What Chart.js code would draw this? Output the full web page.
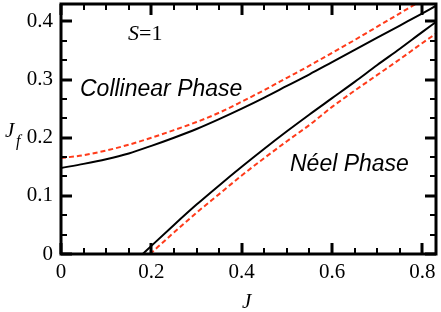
<!DOCTYPE html>
<html>
<head>
<meta charset="utf-8">
<script src="https://cdn.jsdelivr.net/npm/chart.js@4"></script>
<style>
  body { margin: 0; background: #fff; }
  #wrap { width: 441px; height: 312px; }
</style>
</head>
<body>
<div id="wrap"><canvas id="myChart" width="441" height="312"></canvas></div>
<script>
// boundary curves
const upperJ = [0, 0.05, 0.1, 0.15, 0.2, 0.25, 0.3, 0.35, 0.4, 0.45, 0.5, 0.55, 0.6, 0.65, 0.7, 0.75, 0.8, 0.83]
const upperBlack = [0.148, 0.155, 0.163, 0.173, 0.186, 0.200, 0.215, 0.232, 0.250, 0.269, 0.289, 0.309, 0.330, 0.351, 0.372, 0.393, 0.414, 0.427]
const upperRed = [0.165, 0.170, 0.178, 0.188, 0.200, 0.213, 0.227, 0.243, 0.262, 0.282, 0.303, 0.324, 0.346, 0.368, 0.391, 0.414, 0.437, 0.451]

const lowerBlackJ = [0.181, 0.2, 0.25, 0.3, 0.35, 0.4, 0.45, 0.5, 0.55, 0.6, 0.65, 0.7, 0.75, 0.8, 0.83]
const lowerBlack = [0, 0.014, 0.050, 0.085, 0.118, 0.150, 0.181, 0.211, 0.240, 0.268, 0.296, 0.325, 0.353, 0.382, 0.399]
const lowerRedJ = [0.197, 0.25, 0.3, 0.35, 0.4, 0.45, 0.5, 0.55, 0.6, 0.65, 0.7, 0.75, 0.8, 0.83]
const lowerRed = [0, 0.037, 0.071, 0.103, 0.135, 0.165, 0.194, 0.222, 0.253, 0.281, 0.308, 0.335, 0.363, 0.379]

const xTicks = [0, 0.2, 0.4, 0.6, 0.8]
const yTicks = [0, 0.1, 0.2, 0.3, 0.4]
const tickLabel = v => v === 0 ? "0" : v.toFixed(1)

const pts = (xs, ys) => xs.map((x, i) => ({x: x, y: ys[i]}))
const red = "#ff3b1a"
const serif = "'Liberation Serif', 'DejaVu Serif', serif"

const frame = {
    id: "frame",
    afterDraw(chart) {
        const c = chart.ctx
        const a = chart.chartArea
        const sx = chart.scales.x, sy = chart.scales.y
        c.save()
        c.strokeStyle = "#000"
        c.lineCap = "butt"
        // minor + major ticks on all sides, pointing in
        for (let k = 0; k <= 16; k++) {
            const px = Math.round(sx.getPixelForValue(k * 0.05))
            const major = k % 4 === 0
            const len = major ? 11 : 6
            c.lineWidth = major ? 3 : 2
            c.beginPath()
            c.moveTo(px, a.bottom); c.lineTo(px, a.bottom - len)
            c.moveTo(px, a.top); c.lineTo(px, a.top + len)
            c.stroke()
        }
        for (let k = 0; k <= 12; k++) {
            const py = Math.round(sy.getPixelForValue(k / 30))
            const major = k % 3 === 0
            const len = major ? 11 : 6
            c.lineWidth = major ? 3 : 2
            c.beginPath()
            c.moveTo(a.left, py); c.lineTo(a.left + len, py)
            c.moveTo(a.right, py); c.lineTo(a.right - len, py)
            c.stroke()
        }
        c.lineWidth = 3
        c.strokeRect(a.left, a.top, a.right - a.left, a.bottom - a.top)

        // tick labels
        c.fillStyle = "#000"
        c.font = "21px " + serif
        c.textBaseline = "middle"
        c.textAlign = "center"
        xTicks.forEach(v => c.fillText(tickLabel(v), sx.getPixelForValue(v), 272))
        c.textAlign = "right"
        yTicks.forEach(v => c.fillText(tickLabel(v), 53, sy.getPixelForValue(v)))

        // texts
        c.textBaseline = "alphabetic"
        c.textAlign = "left"
        c.font = "italic 22px " + serif
        c.fillText("S", 128, 40)
        let w = c.measureText("S").width
        c.font = "22px " + serif
        c.fillText("=1", 128 + w, 40)

        c.font = "italic 23px 'Liberation Sans'"
        c.fillText("Collinear Phase", 80, 96)
        c.fillText("Néel Phase", 290, 171)

        c.font = "italic 21px " + serif
        c.fillText("J", 242, 308)
        c.fillText("J", 5, 137)
        c.font = "italic 16px " + serif
        c.fillText("f", 16, 146)
        c.restore()
    }
}

const ctx = document.getElementById("myChart").getContext("2d")
new Chart(ctx, {
    type: "scatter",
    data: {
        datasets: [
            {data: pts(upperJ, upperRed), borderColor: red, borderDash: [5, 3], borderWidth: 2},
            {data: pts(upperJ, upperBlack), borderColor: "#000", borderWidth: 2},
            {data: pts(lowerRedJ, lowerRed), borderColor: red, borderDash: [5, 3], borderWidth: 2},
            {data: pts(lowerBlackJ, lowerBlack), borderColor: "#000", borderWidth: 2}
        ].map(d => Object.assign(d, {showLine: true, pointRadius: 0, cubicInterpolationMode: "monotone", fill: false}))
    },
    options: {
        responsive: false,
        animation: false,
        clip: true,
        layout: {padding: {top: 4, right: 5, left: 0, bottom: 0}},
        plugins: {legend: {display: false}, tooltip: {enabled: false}},
        scales: {
            x: {
                type: "linear", min: 0, max: 0.83,
                grid: {display: false, drawTicks: false},
                border: {display: false},
                ticks: {display: false},
                afterFit: s => { s.height = 58 }
            },
            y: {
                type: "linear", min: 0, max: 0.43,
                grid: {display: false, drawTicks: false},
                border: {display: false},
                ticks: {display: false},
                afterFit: s => { s.width = 61 }
            }
        }
    },
    plugins: [frame]
})
</script>
</body>
</html>
